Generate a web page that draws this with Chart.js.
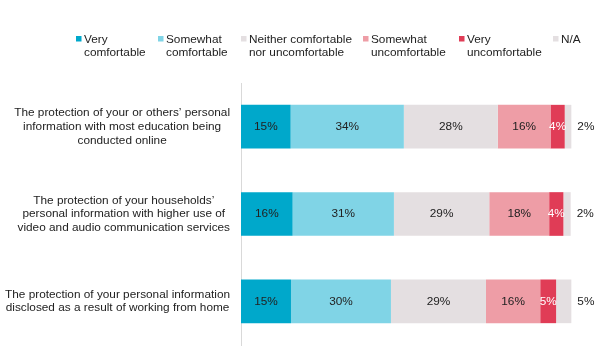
<!DOCTYPE html>
<html><head><meta charset="utf-8">
<script src="https://cdn.jsdelivr.net/npm/chart.js@4/dist/chart.umd.min.js"></script>
<style>html,body{margin:0;padding:0;background:#fff;}#wrap{width:600px;height:361px;position:relative;}</style>
</head><body><div id="wrap"><canvas id="c"></canvas></div>
<script>
// ---- data ----
const categories = [
  ["The protection of your or others\u2019 personal", "information with most education being", "conducted online"],
  ["The protection of your households\u2019", "personal information with higher use of", "video and audio communication services"],
  ["The protection of your personal information", "disclosed as a result of working from home"]
];
const seriesNames = [
  ["Very", "comfortable"],
  ["Somewhat", "comfortable"],
  ["Neither comfortable", "nor uncomfortable"],
  ["Somewhat", "uncomfortable"],
  ["Very", "uncomfortable"],
  ["N/A"]
];
const veryComfortable       = [15.0, 15.6, 15.1];
const somewhatComfortable   = [34.2, 30.6, 30.2];
const neither               = [28.4, 28.8, 28.7];
const somewhatUncomfortable = [15.9, 18.1, 16.4];
const veryUncomfortable     = [4.3, 4.3, 4.8];
const notApplicable         = [2.0, 2.2, 4.6];
const seriesValues = [veryComfortable, somewhatComfortable, neither, somewhatUncomfortable, veryUncomfortable, notApplicable];

// ---- styles ----
const colors = ['#00A8CB', '#80D4E6', '#E4DFE1', '#EE9DA6', '#E03C56', '#E4DFE1'];
const labelColors = ['#222', '#222', '#222', '#222', '#fff', '#222'];
const FONT = '"Liberation Sans", Arial, sans-serif';
const FS = 11.8;

const legendPlugin = {
  id: 'customLegend',
  afterDraw(chart) {
    const ctx = chart.ctx;
    const xs = [76, 158, 241, 363, 459, 553];
    ctx.save();
    ctx.font = FS + 'px ' + FONT;
    ctx.textBaseline = 'middle';
    ctx.textAlign = 'left';
    chart.data.datasets.forEach((ds, i) => {
      ctx.fillStyle = ds.backgroundColor;
      ctx.fillRect(xs[i], 36, 5.5, 5.5);
      ctx.fillStyle = '#222';
      ds.legendLines.forEach((t, j) => ctx.fillText(t, xs[i] + 8, 39.5 + j * 13));
    });
    ctx.restore();
  }
};

const rowLabelPlugin = {
  id: 'rowLabels',
  afterDraw(chart) {
    const ctx = chart.ctx;
    const y = chart.scales.y;
    ctx.save();
    ctx.font = FS + 'px ' + FONT;
    ctx.textBaseline = 'middle';
    ctx.textAlign = 'center';
    ctx.fillStyle = '#222';
    chart.data.labels.forEach((lines, i) => {
      const cy = y.getPixelForValue(i);
      const w = Math.max(...lines.map(l => ctx.measureText(l).width));
      const cx = 230 - w / 2;
      const lh = 13.6;
      lines.forEach((l, j) => ctx.fillText(l, cx, cy + (j - (lines.length - 1) / 2) * lh));
    });
    ctx.restore();
  }
};

const valueLabelPlugin = {
  id: 'valueLabels',
  afterDatasetsDraw(chart) {
    const ctx = chart.ctx;
    ctx.save();
    ctx.font = FS + 'px ' + FONT;
    ctx.textBaseline = 'middle';
    const n = chart.data.datasets.length;
    chart.data.datasets.forEach((ds, i) => {
      const meta = chart.getDatasetMeta(i);
      meta.data.forEach((bar, k) => {
        const txt = Math.round(ds.data[k]) + '%';
        ctx.fillStyle = labelColors[i];
        if (i === n - 1) {
          ctx.textAlign = 'left';
          ctx.fillText(txt, bar.x + 6, bar.y);
        } else {
          ctx.textAlign = 'center';
          ctx.fillText(txt, (bar.x + bar.base) / 2, bar.y);
        }
      });
    });
    ctx.restore();
  }
};

new Chart(document.getElementById('c'), {
  type: 'bar',
  data: {
    labels: categories,
    datasets: seriesValues.map((vals, i) => ({
      label: seriesNames[i].join(' '),
      legendLines: seriesNames[i],
      data: vals,
      backgroundColor: colors[i],
      borderWidth: 0,
      categoryPercentage: 1,
      barPercentage: 0.5
    }))
  },
  options: {
    indexAxis: 'y',
    responsive: true,
    maintainAspectRatio: false,
    animation: false,
    devicePixelRatio: 1,
    layout: { padding: { top: 83, bottom: 16, right: 28, left: 0 } },
    plugins: { legend: { display: false }, tooltip: { enabled: false } },
    scales: {
      x: { stacked: true, min: 0, max: 100, display: false },
      y: {
        stacked: true,
        grid: { display: false, drawTicks: false },
        border: { display: true, color: '#D9D9D9', width: 1 },
        ticks: { display: false },
        afterFit: s => { s.width = 241; }
      }
    }
  },
  plugins: [legendPlugin, rowLabelPlugin, valueLabelPlugin]
});
</script>
</body></html>
